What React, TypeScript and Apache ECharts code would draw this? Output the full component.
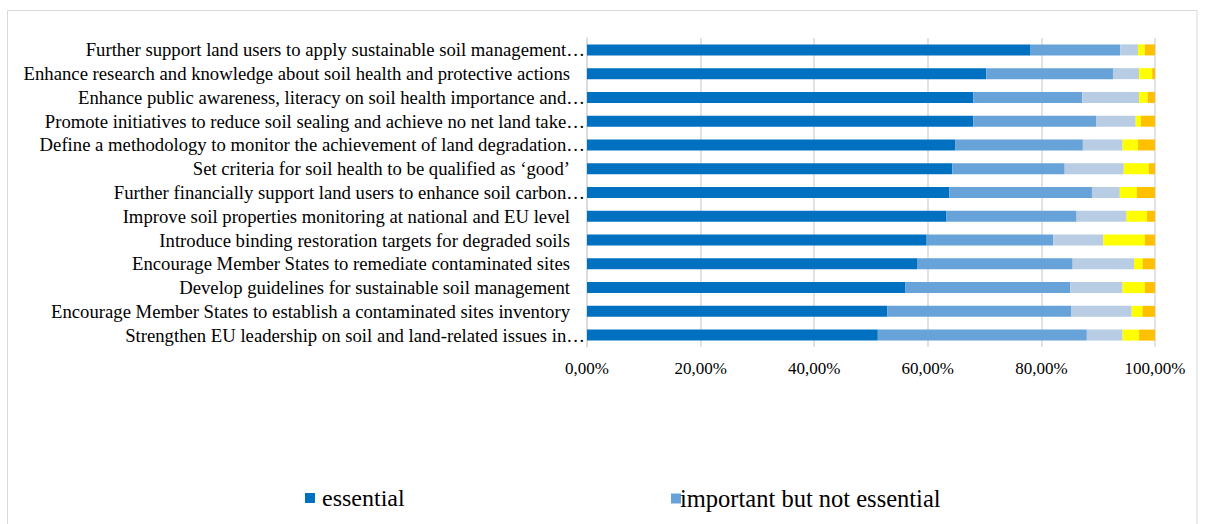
import React, { useEffect, useRef } from "react";
import * as echarts from "echarts";

const categories = [
  "Further support land users to apply sustainable soil management…",
  "Enhance research and knowledge about soil health and protective actions",
  "Enhance public awareness, literacy on soil health importance and…",
  "Promote initiatives to reduce soil sealing and achieve no net land take…",
  "Define a methodology to monitor the achievement of land degradation…",
  "Set criteria for soil health to be qualified as ‘good’",
  "Further financially support land users to enhance soil carbon…",
  "Improve soil properties monitoring at national and EU level",
  "Introduce binding restoration targets for degraded soils",
  "Encourage Member States to remediate contaminated sites",
  "Develop guidelines for sustainable soil management",
  "Encourage Member States to establish a contaminated sites inventory",
  "Strengthen EU leadership on soil and land-related issues in…",
];

const essential = [78.1, 70.3, 68.0, 68.0, 64.8, 64.3, 63.8, 63.3, 59.8, 58.1, 56.0, 52.9, 51.2];
const importantNotEssential = [15.8, 22.3, 19.2, 21.7, 22.5, 19.8, 25.1, 22.9, 22.3, 27.4, 29.1, 32.4, 36.8];
const usefulNotImportant = [3.1, 4.6, 10.0, 6.9, 7.0, 10.4, 4.9, 8.8, 8.8, 10.8, 9.2, 10.6, 6.3];
const notImportant = [1.2, 2.3, 1.5, 0.9, 2.7, 4.4, 3.0, 3.6, 7.3, 1.5, 3.9, 1.9, 2.9];
const noOpinion = [1.8, 0.5, 1.3, 2.5, 3.0, 1.1, 3.2, 1.4, 1.8, 2.2, 1.8, 2.2, 2.8];

const xTicks = ["0,00%", "20,00%", "40,00%", "60,00%", "80,00%", "100,00%"];

const seriesDefs = [
  { name: "essential", data: essential, color: "#0070C0" },
  { name: "important but not essential", data: importantNotEssential, color: "#67A3D8" },
  { name: "useful but not important", data: usefulNotImportant, color: "#B8CCE4" },
  { name: "not important", data: notImportant, color: "#FFFF00" },
  { name: "no opinion", data: noOpinion, color: "#FFC000" },
];

export default function App() {
  const ref = useRef<HTMLDivElement>(null);
  useEffect(() => {
    if (!ref.current) return;
    const chart = echarts.init(ref.current, undefined, { renderer: "svg" });
    const font = "Liberation Serif";
    const cats = [...categories].reverse();
    chart.setOption({
      animation: false,
      backgroundColor: "#ffffff",
      textStyle: { fontFamily: font },
      graphic: [
        {
          type: "rect",
          shape: { x: 7.5, y: 10.5, width: 1189.5, height: 620 },
          style: { fill: "none", stroke: "#d9d9d9", lineWidth: 1 },
          silent: true,
        },
      ],
      grid: { left: 587, right: 51, top: 38, bottom: 177, containLabel: false },
      xAxis: {
        type: "value",
        min: 0,
        max: 100,
        interval: 20,
        axisLine: { show: false },
        axisTick: { show: false },
        splitLine: { show: true, lineStyle: { color: "#d9d9d9", width: 1.5 } },
        axisLabel: {
          color: "#000",
          fontFamily: font,
          fontSize: 17,
          margin: 13,
          formatter: (v: number) => xTicks[Math.round(v / 20)] ?? "",
        },
      },
      yAxis: {
        type: "category",
        data: cats,
        axisLine: { show: true, lineStyle: { color: "#d9d9d9", width: 1.5 } },
        axisTick: { show: false },
        axisLabel: {
          interval: 0,
          color: "#000",
          fontFamily: font,
          fontSize: 18.7,
          margin: 2,
          formatter: (v: string) => (v.endsWith("…") ? `{t|${v}}` : `{p|${v}}`),
          rich: {
            t: { fontFamily: font, fontSize: 18.7, color: "#000" },
            p: { fontFamily: font, fontSize: 18.7, color: "#000", padding: [0, 15, 0, 0] },
          },
        },
      },
      legend: [
        {
          data: ["essential"],
          left: 300,
          top: 481,
          itemWidth: 10,
          itemHeight: 10,
          itemGap: 5,
          icon: "rect",
          textStyle: { fontFamily: font, fontSize: 24, color: "#000", padding: [0, 0, 0, 2] },
        },
        {
          data: ["important but not essential"],
          left: 666,
          top: 481,
          itemWidth: 10,
          itemHeight: 10,
          icon: "rect",
          textStyle: { fontFamily: font, fontSize: 24.5, color: "#000", padding: [0, 0, 0, -6] },
        },
      ],
      series: seriesDefs.map((s) => ({
        name: s.name,
        type: "bar",
        stack: "total",
        barWidth: 11,
        itemStyle: { color: s.color },
        data: [...s.data].reverse(),
      })),
    });
    return () => chart.dispose();
  }, []);
  return (
    <div
      ref={ref}
      style={{ position: "fixed", left: 0, top: 0, width: 1206, height: 524 }}
    />
  );
}
